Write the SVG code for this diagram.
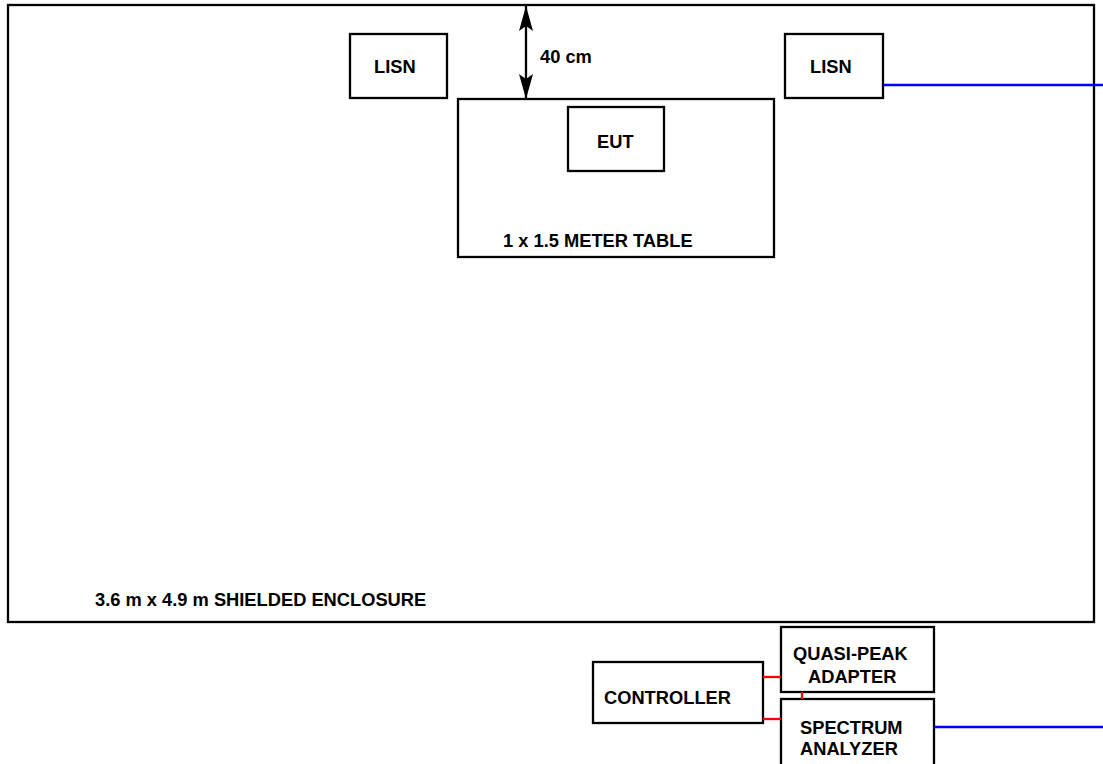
<svg xmlns="http://www.w3.org/2000/svg" width="1103" height="764" viewBox="0 0 1103 764">
<style>
.box{fill:#fff;stroke:#000;stroke-width:2.3}
.lbl{font-family:"Liberation Sans",Arial,sans-serif;font-weight:bold;font-size:18.3px;fill:#000}
.blue{stroke:#0000ff;stroke-width:2.3;fill:none}
.red{stroke:#ff0000;stroke-width:2.3;fill:none}
.dim{stroke:#000;stroke-width:2.3;fill:none}
</style>
<defs>
<marker id="ah" viewBox="0 0 25 14" refX="25" refY="7" markerWidth="25" markerHeight="14" markerUnits="userSpaceOnUse" orient="auto-start-reverse">
<path d="M0,0 L25,7 L0,14 L5,7 Z" fill="#000"/>
</marker>
</defs>
<g id="enclosure">
<rect class="box" x="8" y="5" width="1086" height="617" fill="none"/>
<text class="lbl" x="95" y="606">3.6 m x 4.9 m SHIELDED ENCLOSURE</text>
</g>
<g id="lisn-left">
<rect class="box" x="350" y="34" width="97" height="64"/>
<text class="lbl" x="374" y="73">LISN</text>
</g>
<g id="lisn-right">
<rect class="box" x="785" y="34" width="98" height="64"/>
<text class="lbl" x="810" y="73">LISN</text>
</g>
<g id="table">
<rect class="box" x="458" y="99" width="316" height="158"/>
<text class="lbl" x="503" y="247">1 x 1.5 METER TABLE</text>
</g>
<g id="eut">
<rect class="box" x="568" y="107" width="96" height="64"/>
<text class="lbl" x="597" y="148">EUT</text>
</g>
<g id="dimension">
<line class="dim" x1="526" y1="6" x2="526" y2="99" marker-start="url(#ah)" marker-end="url(#ah)"/>
<text class="lbl" x="540" y="63">40 cm</text>
</g>
<g id="controller">
<rect class="box" x="593" y="662" width="170" height="61"/>
<text class="lbl" x="604" y="704">CONTROLLER</text>
</g>
<g id="quasi-peak">
<rect class="box" x="781" y="627" width="153" height="65"/>
<text class="lbl" x="793" y="660">QUASI-PEAK</text>
<text class="lbl" x="808" y="683">ADAPTER</text>
</g>
<g id="spectrum">
<rect class="box" x="781" y="699" width="153" height="70"/>
<text class="lbl" x="800" y="734">SPECTRUM</text>
<text class="lbl" x="800" y="755">ANALYZER</text>
</g>
<g id="connectors">
<line class="blue" x1="883" y1="85" x2="1103" y2="85"/>
<line class="blue" x1="934" y1="727" x2="1103" y2="727"/>
<line class="red" x1="763" y1="677" x2="781" y2="677"/>
<line class="red" x1="763" y1="719" x2="781" y2="719"/>
<line class="red" x1="802" y1="692" x2="802" y2="699"/>
</g>
</svg>
